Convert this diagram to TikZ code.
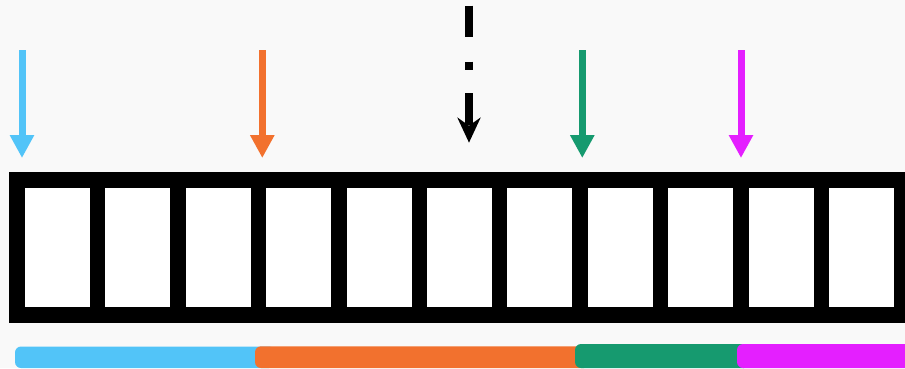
\documentclass[tikz,border=0pt]{standalone}
\usetikzlibrary{arrows.meta}
\definecolor{bgc}{HTML}{F9F9F9}
\definecolor{cblue}{HTML}{52C4F8}
\definecolor{corange}{HTML}{F2712E}
\definecolor{cgreen}{HTML}{169A6F}
\definecolor{cmag}{HTML}{E41FFF}
\tikzset{
  cell/.style={fill=white, draw=none, inner sep=0pt, minimum width=65pt, minimum height=118.2pt},
  colarrow/.style={line width=7pt, -{Triangle[width=23pt,length=23pt]}},
  blackarrow/.style={line width=8pt, black, dash pattern=on 31.6pt off 24.4pt on 8.3pt off 23.3pt,
     -{Stealth[width=23pt,length=25pt,inset=8pt]}},
  stripe/.style={rounded corners=6pt}
}
\begin{document}
\begin{tikzpicture}[x=1pt,y=-1pt]
\useasboundingbox (0,0) rectangle (905,368);
\clip (0,0) rectangle (905,368);
\fill[bgc] (0,0) rectangle (905,368);
% frame
\fill[black] (9,172.3) rectangle (912,322.7);
\foreach \i in {0,...,10}{
  \node[cell] (c\i) at ({57.5+80.4*\i},247.4) {};
}
% stripes
\fill[cblue, stripe] (15,346.5) rectangle (275,368);
\fill[corange, stripe] (255,346.3) rectangle (590,368);
\fill[cgreen, stripe] (575,344) rectangle (750,368);
\fill[cmag, stripe] (737,344) rectangle (920,368);
% arrows
\coordinate (bS) at (22,50);   \coordinate (bE) at (22,158);
\coordinate (oS) at (262.3,50); \coordinate (oE) at (262.3,158);
\coordinate (gS) at (582.3,50); \coordinate (gE) at (582.3,158);
\coordinate (mS) at (741,50);  \coordinate (mE) at (741,158);
\coordinate (kS) at (469,5.7); \coordinate (kE) at (469,142.7);
\draw[colarrow, cblue] (bS) -- (bE);
\draw[colarrow, corange] (oS) -- (oE);
\draw[colarrow, cgreen] (gS) -- (gE);
\draw[colarrow, cmag] (mS) -- (mE);
\draw[blackarrow] (kS) -- (kE);
\end{tikzpicture}
\end{document}
